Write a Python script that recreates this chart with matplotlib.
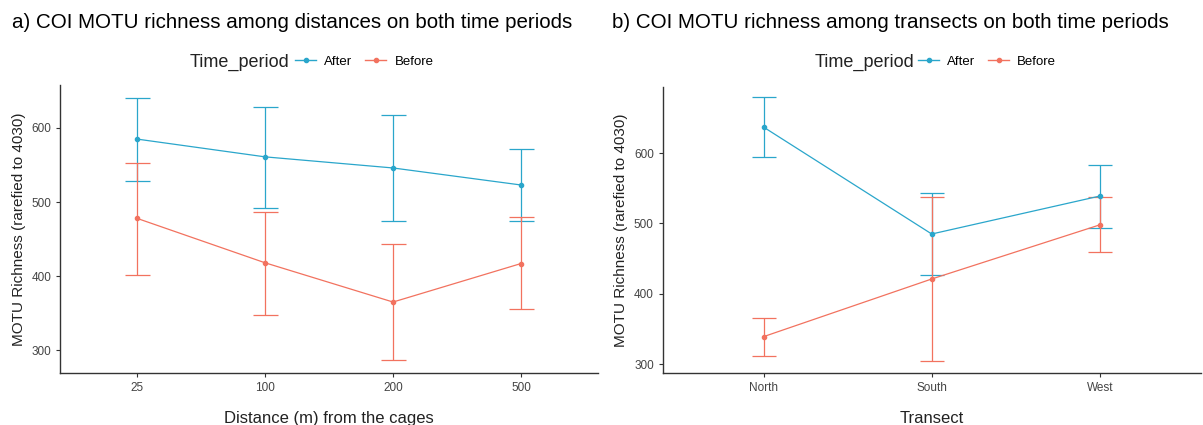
import matplotlib
matplotlib.use("Agg")
import matplotlib.pyplot as plt
from matplotlib.lines import Line2D
import numpy as np

plt.rcParams['font.family'] = ['Liberation Sans', 'DejaVu Sans']

# panel a: distance from the cages
distances = ['25', '100', '200', '500']
dist_after = [585, 561, 546, 523]
dist_after_hi = [640, 628, 617, 572]
dist_after_lo = [528, 492, 475, 474]
dist_before = [478, 418, 365, 417]
dist_before_hi = [553, 487, 443, 480]
dist_before_lo = [402, 348, 287, 355]

# panel b: transects
transects = ['North', 'South', 'West']
tr_after = [637, 485, 539]
tr_after_hi = [680, 544, 583]
tr_after_lo = [594, 426, 494]
tr_before = [339, 421, 498]
tr_before_hi = [365, 537, 537]
tr_before_lo = [312, 304, 459]

c_after = '#2AA6CB'
c_before = '#F2725F'
axis_col = '#333333'


def draw_panel(ax, cats, series, ylim, yticks, xlabel, capsize):
    x = np.arange(1, len(cats) + 1)
    for mean, hi, lo, col in series:
        mean = np.array(mean)
        err = [mean - np.array(lo), np.array(hi) - mean]
        ax.errorbar(x, mean, yerr=err, color=col, lw=0.9, elinewidth=0.9,
                    capsize=capsize, capthick=0.9, marker='o', ms=3)
    ax.set_xlim(0.4, len(cats) + 0.6)
    ax.set_ylim(*ylim)
    ax.set_xticks(x)
    ax.set_xticklabels(cats)
    ax.set_yticks(yticks)
    for s in ['top', 'right']:
        ax.spines[s].set_visible(False)
    for s in ['left', 'bottom']:
        ax.spines[s].set_color(axis_col)
        ax.spines[s].set_linewidth(1.0)
    ax.tick_params(colors=axis_col, labelsize=8.5, length=3, labelcolor='#444444')
    ax.set_xlabel(xlabel, fontsize=12, labelpad=12, color='#222222')
    ax.set_ylabel('MOTU Richness (rarefied to 4030)', fontsize=11, color='#222222')


fig = plt.figure(figsize=(12.03, 4.25), dpi=100)
ax1 = fig.add_axes([0.050, 0.122, 0.447, 0.678])
ax2 = fig.add_axes([0.551, 0.122, 0.447, 0.673])

draw_panel(ax1, distances,
           [(dist_after, dist_after_hi, dist_after_lo, c_after),
            (dist_before, dist_before_hi, dist_before_lo, c_before)],
           (269, 658), [300, 400, 500, 600], 'Distance (m) from the cages', 9)
draw_panel(ax2, transects,
           [(tr_after, tr_after_hi, tr_after_lo, c_after),
            (tr_before, tr_before_hi, tr_before_lo, c_before)],
           (287, 694), [300, 400, 500, 600], 'Transect', 8.5)

fig.text(12 / 1203, 1 - 22 / 425, 'a) COI MOTU richness among distances on both time periods',
         fontsize=14.8, va='center', ha='left')
fig.text(612 / 1203, 1 - 22 / 425, 'b) COI MOTU richness among transects on both time periods',
         fontsize=14.8, va='center', ha='left')

handles = [Line2D([], [], color=c_after, marker='o', ms=3, lw=1),
           Line2D([], [], color=c_before, marker='o', ms=3, lw=1)]
for tx, lx in [(190, 295), (815, 918)]:
    fig.text(tx / 1203, 1 - 62 / 425, 'Time_period', fontsize=13, va='center', ha='left',
             color='#222222')
    fig.legend(handles, ['After', 'Before'], loc='center left',
               bbox_to_anchor=(lx / 1203, 1 - 62 / 425), ncol=2, frameon=False,
               fontsize=9.5, handlelength=1.6, handletextpad=0.6, columnspacing=1.0,
               borderpad=0, borderaxespad=0)

fig.savefig('out.png', dpi=100)
